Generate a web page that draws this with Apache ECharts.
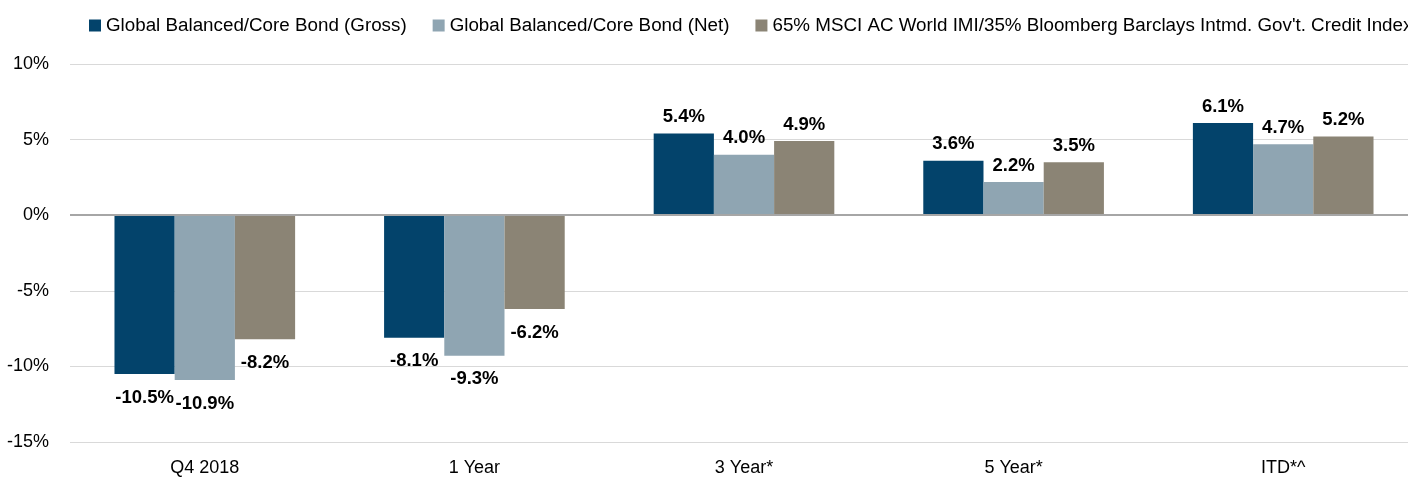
<!DOCTYPE html>
<html><head><meta charset="utf-8">
<script src="https://cdn.jsdelivr.net/npm/echarts@6/dist/echarts.min.js"></script>
<style>html,body{margin:0;padding:0;background:#fff;overflow:hidden}#c{width:1418px;height:479px}</style>
</head><body><div id="c"></div>
<script>
const categories = ['Q4 2018', '1 Year', '3 Year*', '5 Year*', 'ITD*^'];
const seriesNames = ['Global Balanced/Core Bond (Gross)', 'Global Balanced/Core Bond (Net)', "65% MSCI AC World IMI/35% Bloomberg Barclays Intmd. Gov't. Credit Index"];
const gross = [-10.5, -8.1, 5.4, 3.6, 6.1];
const net = [-10.9, -9.3, 4.0, 2.2, 4.7];
const benchmark = [-8.2, -6.2, 4.9, 3.5, 5.2];
const colors = ['#03436b', '#8fa5b2', '#8b8475'];
const FONT = 'Liberation Sans';

const chart = echarts.init(document.getElementById('c'), null, {renderer: 'canvas'});
const mk = (name, values, color) => ({
  name, type: 'bar', barGap: '0%', barCategoryGap: '33%',
  data: values.map(v => ({value: v, label: {distance: v < 0 ? 14 : 7}})),
  itemStyle: {color},
  label: {show: true, position: 'outside', formatter: p => p.value.toFixed(1) + '%',
    fontFamily: FONT, fontWeight: 'bold', fontSize: 18.5, color: '#000'}
});
chart.setOption({
  animation: false,
  textStyle: {fontFamily: FONT},
  legend: {left: 89, top: 16, padding: 0, itemWidth: 12, itemHeight: 12, itemGap: 26, icon: 'rect',
    textStyle: {fontFamily: FONT, fontSize: 18.8, color: '#000'},
    data: seriesNames},
  grid: {left: 70, right: 0, top: 64, bottom: 37, containLabel: false},
  xAxis: {type: 'category', data: categories,
    axisLine: {show: false}, axisTick: {show: false},
    axisLabel: {fontFamily: FONT, fontSize: 18, color: '#000', margin: 17}},
  yAxis: {type: 'value', min: -15, max: 10, interval: 5,
    axisLabel: {formatter: v => v + '%', fontFamily: FONT, fontSize: 18, color: '#000', margin: 21},
    splitLine: {lineStyle: {color: '#d9d9d9', width: 1}},
    axisLine: {show: false}, axisTick: {show: false}},
  series: [
    mk(seriesNames[0], gross, colors[0]),
    mk(seriesNames[1], net, colors[1]),
    Object.assign(mk(seriesNames[2], benchmark, colors[2]), {
      markLine: {silent: true, symbol: 'none', label: {show: false},
        lineStyle: {color: '#a6a6a6', width: 2, type: 'solid'}, data: [{yAxis: 0}]}
    })
  ]
});
</script></body></html>
